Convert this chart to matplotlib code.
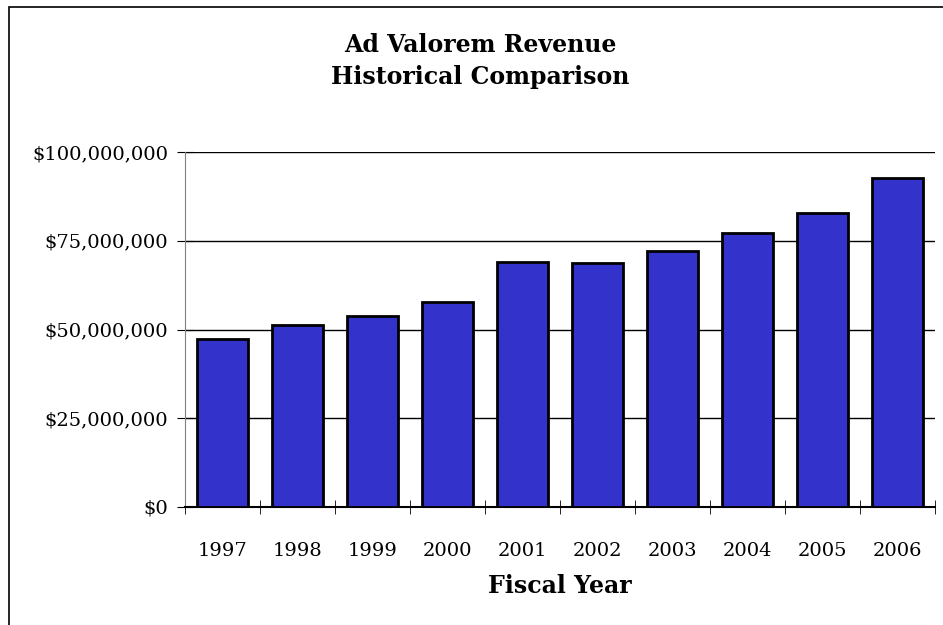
import matplotlib
matplotlib.use('Agg')
import matplotlib.pyplot as plt
from matplotlib.patches import Rectangle
from matplotlib.ticker import FuncFormatter, MultipleLocator

years = ['1997', '1998', '1999', '2000', '2001', '2002', '2003', '2004', '2005', '2006']
revenue = [47.3e6, 51.3e6, 53.8e6, 57.7e6, 69.0e6, 68.7e6, 72.1e6, 77.2e6, 82.8e6, 92.7e6]

plt.rcParams['font.family'] = 'DejaVu Serif'

fig = plt.figure(figsize=(9.43, 6.25), dpi=100)
# outer chart border (cropped on right/bottom like the original)
fig.patches.append(Rectangle((9/943, -0.05), 1.2, 1 - 7/625 + 0.05, transform=fig.transFigure,
                             fill=False, edgecolor='black', linewidth=1.2))

ax = fig.add_axes([185/943, 118/625, 750/943, 355/625])
x = range(len(years))
ax.bar(x, revenue, width=0.67, color='#3333CC', edgecolor='black', linewidth=2, zorder=3)

ax.set_xlim(-0.5, len(years) - 0.5)
ax.set_ylim(0, 100e6)
ax.yaxis.set_major_locator(MultipleLocator(25e6))
ax.yaxis.set_major_formatter(FuncFormatter(lambda v, p: '${:,.0f}'.format(v)))
ax.grid(axis='y', color='black', linewidth=1, zorder=0)

ax.set_xticks(x)
ax.set_xticklabels(years)
ax.set_xticks([i - 0.5 for i in range(len(years) + 1)], minor=True)
ax.tick_params(axis='x', which='major', length=0, pad=25, labelsize=14)
ax.tick_params(axis='x', which='minor', direction='inout', length=10, color='black')
ax.tick_params(axis='y', direction='inout', length=12, labelsize=14, pad=6)

for s in ['top', 'right']:
    ax.spines[s].set_visible(False)
ax.spines['left'].set_color('#808080')
ax.spines['bottom'].set_color('black')
ax.spines['bottom'].set_linewidth(1.5)

ax.set_xlabel('Fiscal Year', fontsize=17, fontweight='bold', labelpad=10)
fig.text(480/943, 1 - 61/625, 'Ad Valorem Revenue\nHistorical Comparison', ha='center', va='center',
         fontsize=17, fontweight='bold', linespacing=1.45)

fig.savefig('out.png', dpi=100)
